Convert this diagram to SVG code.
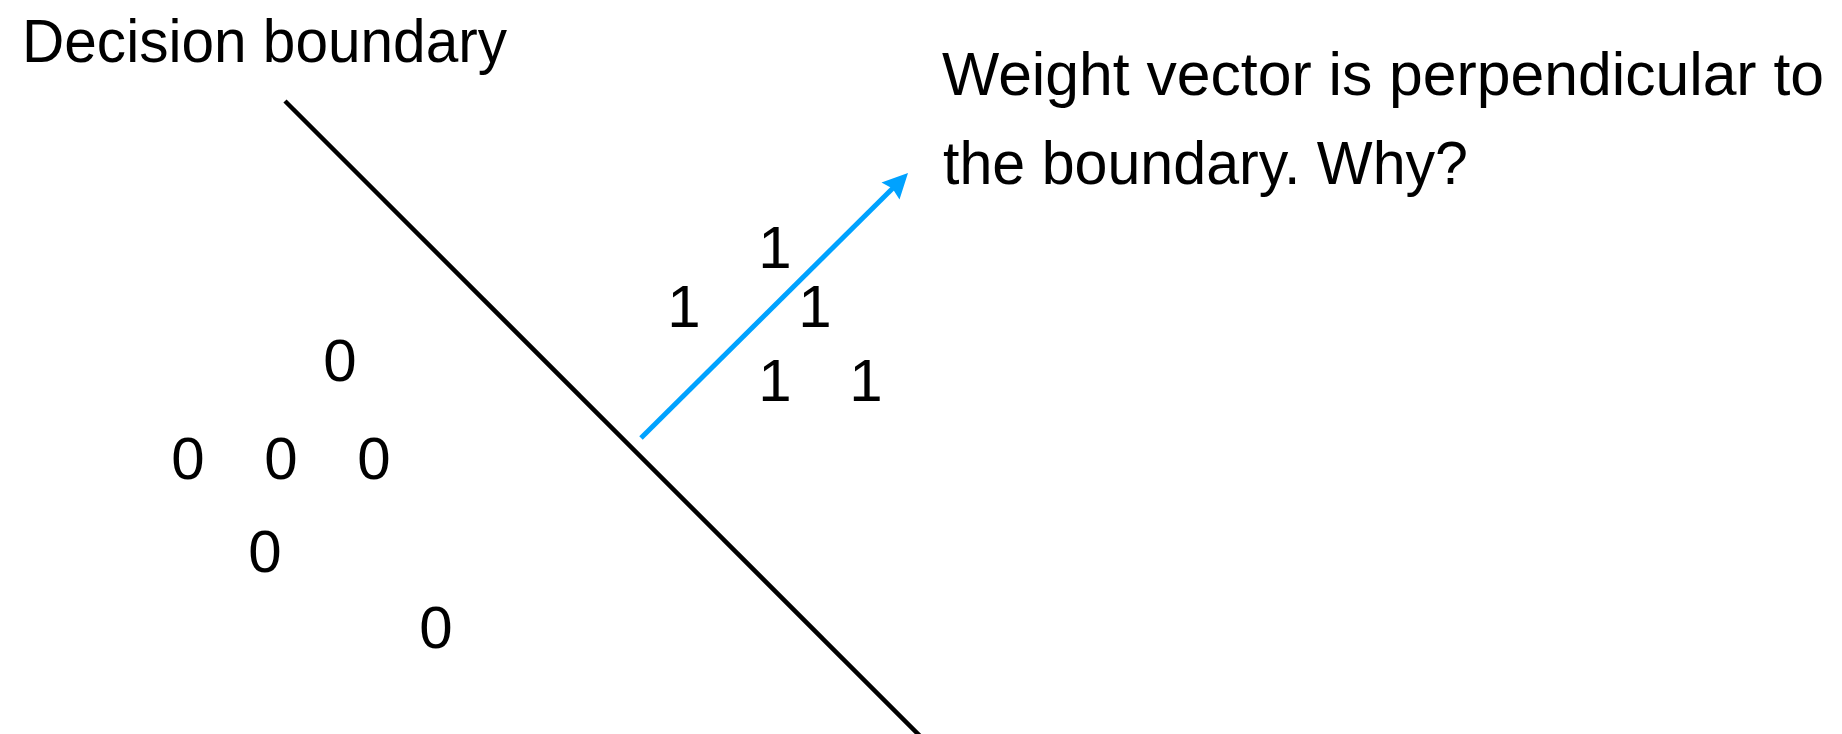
<svg xmlns="http://www.w3.org/2000/svg" width="1842" height="734" viewBox="0 0 1842 734">
<style>
.t{font-family:"Liberation Sans",Arial,sans-serif;font-size:62px;fill:#000}
.d{font-family:"Liberation Sans",Arial,sans-serif;font-size:60px;fill:#000;text-anchor:middle}
</style>
<rect width="1842" height="734" fill="#fff"/>
<g id="labels">
<text class="t" x="22" y="62" textLength="485" lengthAdjust="spacingAndGlyphs">Decision boundary</text>
<text class="t" x="942" y="95" textLength="882" lengthAdjust="spacingAndGlyphs">Weight vector is perpendicular to</text>
<text class="t" x="943" y="184" textLength="525" lengthAdjust="spacingAndGlyphs">the boundary. Why?</text>
</g>
<g id="connectors">
<line id="boundary" x1="285" y1="101" x2="922" y2="738" stroke="#000" stroke-width="4.5"/>
<line id="weight" x1="641" y1="438" x2="893" y2="188" stroke="#00A2FF" stroke-width="5"/>
<polygon points="908,173 881.5,182.5 892.5,188.5 899.5,199.5" fill="#00A2FF"/>
</g>
<g id="class1">
<text class="d" x="775" y="268">1</text>
<text class="d" x="684" y="327">1</text>
<text class="d" x="815" y="327">1</text>
<text class="d" x="775" y="401">1</text>
<text class="d" x="866" y="401">1</text>
</g>
<g id="class0">
<text class="d" x="340" y="381">0</text>
<text class="d" x="188" y="479">0</text>
<text class="d" x="281" y="479">0</text>
<text class="d" x="374" y="479">0</text>
<text class="d" x="265" y="572">0</text>
<text class="d" x="436" y="648">0</text>
</g>
</svg>
